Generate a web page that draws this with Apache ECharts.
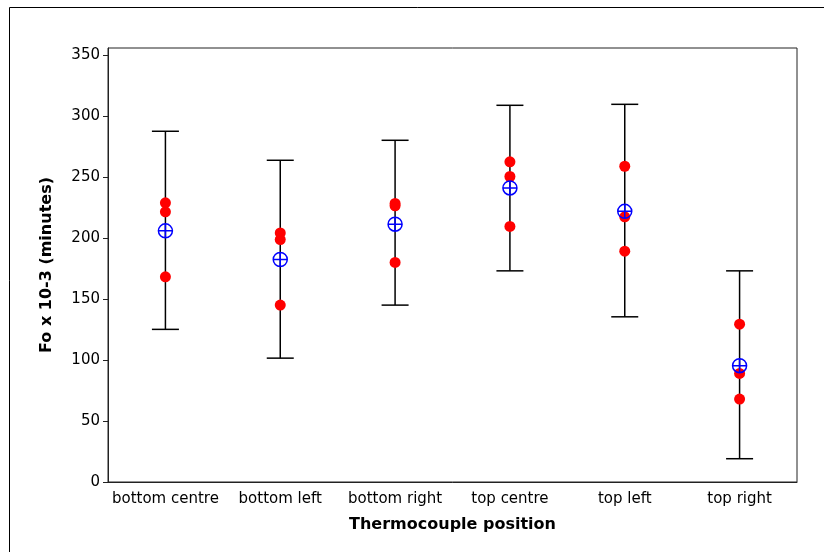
<!DOCTYPE html>
<html>
<head>
<meta charset="utf-8">
<script src="https://cdn.jsdelivr.net/npm/echarts@6/dist/echarts.min.js"></script>
<style>
  html, body { margin: 0; padding: 0; background: #fff; }
  #chart { width: 824px; height: 552px; }
</style>
</head>
<body>
<div id="chart"></div>
<script>
// Thermocouple positions along the x axis
const positions = ['bottom centre', 'bottom left', 'bottom right', 'top centre', 'top left', 'top right'];

// Individual Fo readings (x 10^-3 minutes), three runs per position
const run1 = [229, 204.3, 228.5, 262.6, 259, 129.5];
const run2 = [221.6, 198.9, 226.5, 250.6, 217.5, 89.1];
const run3 = [168.3, 145.1, 180.1, 209.6, 189.3, 68];

// Mean per position and its interval limits
const means = [206, 182.5, 211.5, 241.2, 222, 95.4];
const lower = [125.2, 101.6, 145.1, 173.2, 135.5, 19.1];
const upper = [287.7, 263.9, 280.3, 309, 309.8, 173.2];

// Y axis tick values
const yTicks = [0, 50, 100, 150, 200, 250, 300, 350];

const font = '"DejaVu Sans", Verdana, sans-serif';

const pointData = [];
positions.forEach((p, i) => {
  pointData.push([i, run1[i]], [i, run2[i]], [i, run3[i]]);
});

const chart = echarts.init(document.getElementById('chart'));
chart.setOption({
  backgroundColor: '#ffffff',
  animation: false,
  graphic: [{
    type: 'rect',
    shape: { x: 9.5, y: 7.5, width: 830, height: 560 },
    style: { fill: 'none', stroke: '#000', lineWidth: 1 },
    silent: true,
    z: -1
  }],
  grid: {
    left: 108, right: 27, top: 48, bottom: 70,
    show: true, borderColor: '#222', borderWidth: 1
  },
  xAxis: {
    type: 'category',
    data: positions,
    boundaryGap: true,
    name: 'Thermocouple position',
    nameLocation: 'middle',
    nameGap: 35,
    nameTextStyle: { fontFamily: font, fontWeight: 'bold', fontSize: 16, color: '#000' },
    axisLine: { lineStyle: { color: '#222', width: 1 } },
    axisTick: { alignWithLabel: true, length: 6, lineStyle: { color: '#222' } },
    axisLabel: { fontFamily: font, fontSize: 15, color: '#000', margin: 10, interval: 0 },
    splitLine: { show: false }
  },
  yAxis: {
    type: 'value',
    min: 0,
    max: 356,
    name: 'Fo x 10-3 (minutes)',
    nameLocation: 'middle',
    nameGap: 53,
    nameTextStyle: { fontFamily: font, fontWeight: 'bold', fontSize: 16, color: '#000' },
    axisLine: { show: true, lineStyle: { color: '#222', width: 1 } },
    axisTick: { show: true, length: 5, customValues: yTicks, lineStyle: { color: '#222' } },
    axisLabel: { fontFamily: font, fontSize: 15, color: '#000', margin: 8, customValues: yTicks },
    splitLine: { show: false }
  },
  series: [
    {
      // interval bars with end caps
      type: 'custom',
      data: positions.map((p, i) => [i, lower[i], upper[i]]),
      renderItem: function (params, api) {
        const x = api.value(0);
        const lo = api.coord([x, api.value(1)]);
        const hi = api.coord([x, api.value(2)]);
        const half = 13.5;
        const style = { stroke: '#000', lineWidth: 1.5 };
        return {
          type: 'group',
          children: [
            { type: 'line', shape: { x1: lo[0], y1: lo[1], x2: hi[0], y2: hi[1] }, style: style },
            { type: 'line', shape: { x1: hi[0] - half, y1: hi[1], x2: hi[0] + half, y2: hi[1] }, style: style },
            { type: 'line', shape: { x1: lo[0] - half, y1: lo[1], x2: lo[0] + half, y2: lo[1] }, style: style }
          ]
        };
      },
      z: 1
    },
    {
      type: 'scatter',
      data: pointData,
      symbol: 'circle',
      symbolSize: 11,
      itemStyle: { color: '#ff0000', opacity: 1 },
      z: 2
    },
    {
      type: 'scatter',
      data: means.map((m, i) => [i, m]),
      symbol: 'path://M0,-10 A10,10 0 1,1 0,10 A10,10 0 1,1 0,-10 Z M-10,0 L10,0 M0,-10 L0,10',
      symbolSize: 14,
      itemStyle: { color: 'rgba(0,0,0,0)', borderColor: '#0000ff', borderWidth: 1.5, opacity: 1 },
      z: 3
    }
  ]
});
</script>
</body>
</html>
